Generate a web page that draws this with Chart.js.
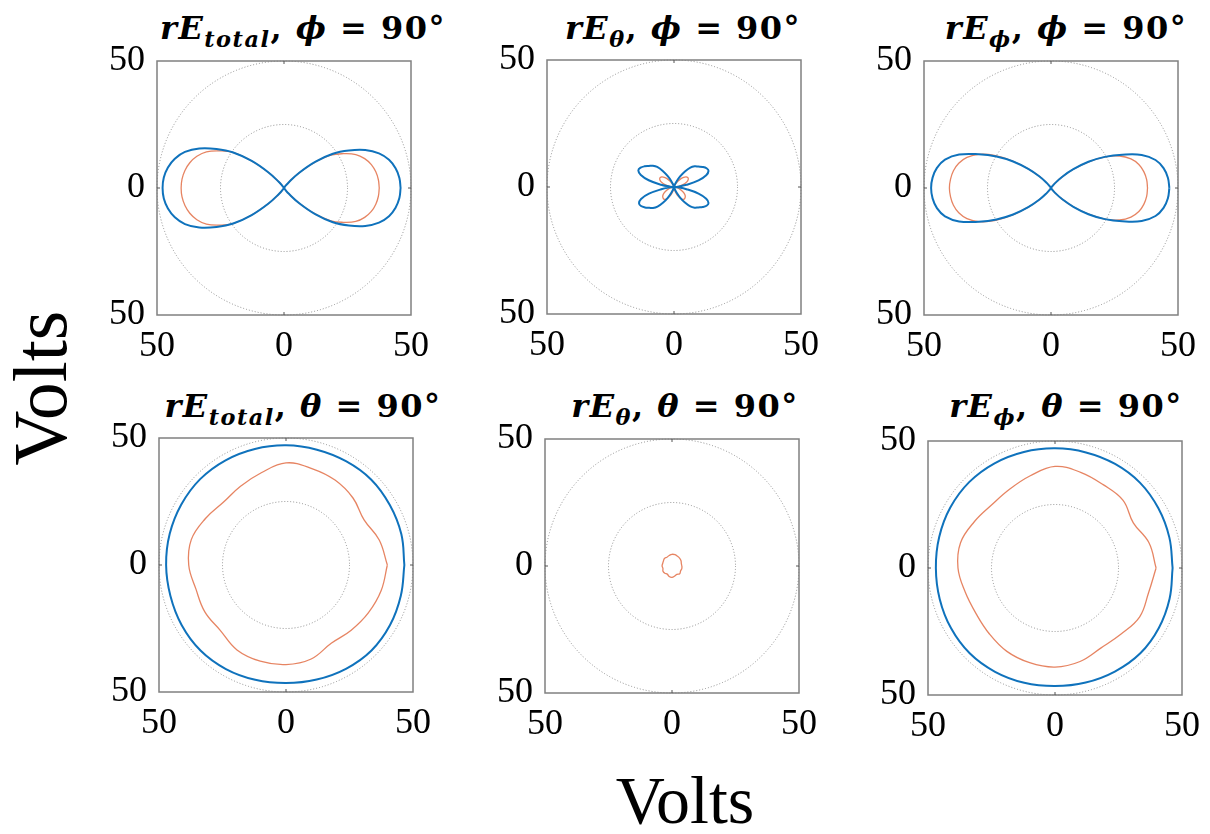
<!DOCTYPE html>
<html>
<head>
<meta charset="utf-8">
<script src="https://cdn.jsdelivr.net/npm/chart.js@4.4.1/dist/chart.umd.min.js"></script>
<style>
  body { margin: 0; background: #fff; }
  #page { position: relative; width: 1210px; height: 834px; overflow: hidden; background: #fff; }
  .panel { position: absolute; }
  .title { position: absolute; width: 420px; text-align: center; white-space: nowrap;
           font: bold 32px "DejaVu Serif", serif; letter-spacing: 1.5px; line-height: 40px; color: #000; }
  .title i { font-style: italic; }
  .title sub { font-size: 0.7em; vertical-align: -0.35em; line-height: 0; }
  .axlab { position: absolute; font-family: "Liberation Serif", serif; color: #000; white-space: nowrap; line-height: 1; }
</style>
</head>
<body>
<div id="page">
  <div class="title" style="left:93px;top:8px"><i>rE</i><sub><i>total</i></sub>, <i>ϕ</i> = 90°</div>
  <div class="title" style="left:473px;top:8px"><i>rE</i><sub><i>θ</i></sub>, <i>ϕ</i> = 90°</div>
  <div class="title" style="left:856px;top:8px"><i>rE</i><sub><i>ϕ</i></sub>, <i>ϕ</i> = 90°</div>
  <div class="title" style="left:93px;top:386px"><i>rE</i><sub><i>total</i></sub>, <i>θ</i> = 90°</div>
  <div class="title" style="left:475px;top:386px"><i>rE</i><sub><i>θ</i></sub>, <i>θ</i> = 90°</div>
  <div class="title" style="left:856px;top:386px"><i>rE</i><sub><i>ϕ</i></sub>, <i>θ</i> = 90°</div>
  <div class="axlab" style="left:40px;top:388px;font-size:76px;transform:translate(-50%,-50%) rotate(-90deg)">Volts</div>
  <div class="axlab" style="left:685px;top:800px;font-size:68px;transform:translate(-50%,-50%)">Volts</div>
  <canvas class="panel" id="c1" width="364" height="350"></canvas>
  <canvas class="panel" id="c2" width="364" height="350"></canvas>
  <canvas class="panel" id="c3" width="364" height="350"></canvas>
  <canvas class="panel" id="c4" width="364" height="350"></canvas>
  <canvas class="panel" id="c5" width="364" height="350"></canvas>
  <canvas class="panel" id="c6" width="364" height="350"></canvas>
</div>
<script>
// angles in degrees (top row every 5°, bottom row every 15°)
const angTop = [
  0, 5, 10, 15, 20, 25, 30, 35, 40, 45, 50, 55,
  60, 65, 70, 75, 80, 85, 90, 95, 100, 105, 110, 115,
  120, 125, 130, 135, 140, 145, 150, 155, 160, 165, 170, 175,
  180, 185, 190, 195, 200, 205, 210, 215, 220, 225, 230, 235,
  240, 245, 250, 255, 260, 265, 270, 275, 280, 285, 290, 295,
  300, 305, 310, 315, 320, 325, 330, 335, 340, 345, 350, 355
];
const angBottom = [0, 15, 30, 45, 60, 75, 90, 105, 120, 135, 150, 165,
  180, 195, 210, 225, 240, 255, 270, 285, 300, 315, 330, 345];

// radius in volts
const p1Blue = [
  45.9, 45.6, 44.6, 42.8, 39.8, 35.3, 29.5, 23.5, 16, 8.5, 3, 0.7,
  0, 0, 0, 0, 0, 0, 0, 0, 0, 0, 0, 0,
  0, 0.7, 3.1, 8.8, 16.6, 24.4, 30.7, 36.8, 41.5, 44.5, 46.4, 47.5,
  47.8, 47.5, 46.4, 44.5, 41.5, 36.8, 30.7, 24.4, 16.6, 8.8, 3.1, 0.7,
  0, 0, 0, 0, 0, 0, 0, 0, 0, 0, 0, 0,
  0, 0.7, 3, 8.5, 16, 23.5, 29.5, 35.3, 39.8, 42.8, 44.6, 45.6
];
const p1Orange = [
  37.5, 37.3, 36.7, 35.6, 33.8, 31.2, 27, 22.5, 15.5, 8.3, 3, 0.7,
  0, 0, 0, 0, 0, 0, 0, 0, 0, 0, 0, 0,
  0, 0.7, 3.1, 8.6, 16.4, 24.2, 29.2, 33.7, 36.5, 38.4, 39.6, 40.3,
  40.5, 40.3, 39.6, 38.4, 36.5, 33.7, 29.2, 24.2, 16.4, 8.6, 3.1, 0.7,
  0, 0, 0, 0, 0, 0, 0, 0, 0, 0, 0, 0,
  0, 0.7, 3, 8.3, 15.5, 22.5, 27, 31.2, 33.8, 35.6, 36.7, 37.3
];
const p2Blue = [
  0, 1.5, 5, 10, 13.5, 15, 14.8, 13.8, 12.5, 11.5, 10, 7.5,
  4.8, 2.5, 0.9, 0.2, 0, 0, 0, 0, 0, 0.2, 0.9, 2.6,
  4.9, 7.7, 10.3, 11.8, 12.9, 14.2, 15.2, 15.5, 13.9, 10.3, 5.2, 1.5,
  0, 1.5, 5.1, 10.2, 13.8, 15.2, 15, 14, 12.7, 11.7, 10.1, 7.6,
  4.9, 2.5, 0.9, 0.2, 0, 0, 0, 0, 0, 0.2, 0.9, 2.5,
  4.8, 7.5, 10, 11.5, 12.5, 13.8, 14.8, 15, 13.5, 10, 5, 1.5
];
const p2Orange = [
  0, 1, 2.4, 3.9, 5.1, 6, 6.5, 6.6, 6.2, 5.4, 4.3, 3,
  1.8, 0.9, 0.3, 0, 0, 0, 0, 0, 0, 0, 0.3, 0.9,
  1.8, 3, 4.3, 5.4, 6.2, 6.6, 6.5, 6, 5.1, 3.9, 2.4, 1,
  0, 0.3, 0.8, 1.5, 2.4, 3.4, 4.4, 5.2, 5.8, 6.1, 6.2, 5.9,
  5.2, 4.1, 2.9, 1.7, 0.7, 0.1, 0, 0.1, 0.7, 1.7, 2.9, 4.1,
  5.2, 5.9, 6.2, 6.1, 5.8, 5.2, 4.4, 3.4, 2.4, 1.5, 0.8, 0.3
];
const p3Blue = [
  46.6, 46.2, 45, 42.6, 38, 31, 24.5, 18, 11.5, 6.3, 2.5, 0.5,
  0, 0, 0, 0, 0, 0, 0, 0, 0, 0, 0, 0,
  0, 0.5, 2.5, 6.4, 11.7, 18.2, 24.8, 31.4, 38.5, 43.2, 45.6, 46.8,
  47.2, 46.8, 45.6, 43.2, 38.5, 31.4, 24.8, 18.2, 11.7, 6.4, 2.5, 0.5,
  0, 0, 0, 0, 0, 0, 0, 0, 0, 0, 0, 0,
  0, 0.5, 2.5, 6.3, 11.5, 18, 24.5, 31, 38, 42.6, 45, 46.2
];
const p3Orange = [
  38, 37.8, 37.1, 35.8, 33.5, 29.8, 24.5, 17.8, 11.3, 6.2, 2.4, 0.5,
  0, 0, 0, 0, 0, 0, 0, 0, 0, 0, 0, 0,
  0, 0.5, 2.5, 6.5, 11.9, 18.7, 25.7, 31.3, 35.2, 37.6, 39, 39.7,
  40, 39.7, 39, 37.6, 35.2, 31.3, 25.7, 18.7, 11.9, 6.5, 2.5, 0.5,
  0, 0, 0, 0, 0, 0, 0, 0, 0, 0, 0, 0,
  0, 0.5, 2.4, 6.2, 11.3, 17.8, 24.5, 29.8, 33.5, 35.8, 37.1, 37.8
];
const p4Blue = [46.6, 47, 47.2, 47.5, 47.2, 47, 47.1, 47.3, 47.6, 47.8, 47.6, 47.4,
  47.2, 47.1, 47.4, 47.6, 47.3, 46.8, 46.5, 46.7, 47.2, 47.6, 47.3, 46.8];
const p4Orange = [39.9, 38, 35.5, 37.3, 38.6, 39.3, 40.2, 37.6, 35.8, 34.9, 36.6, 38.6,
  38.3, 36.7, 36.9, 36.5, 38.6, 39.2, 39.2, 38.3, 35.6, 36.3, 37.5, 38.8];
const p5Blue = [0, 0, 0, 0, 0, 0, 0, 0, 0, 0, 0, 0,
  0, 0, 0, 0, 0, 0, 0, 0, 0, 0, 0, 0];
const p5Orange = [3.9, 3.8, 4.1, 4.3, 4.4, 4.6, 4.6, 4.3, 4, 4.2, 3.9, 3.8,
  3.9, 3.7, 4.1, 4, 3.7, 4.3, 4.5, 4.1, 3.8, 4.3, 3.9, 4];
const p6Blue = [46.3, 46.6, 47, 47.4, 47.3, 47.1, 47.1, 47.3, 47.6, 47.8, 47.6, 47.2,
  46.9, 47, 47.3, 47.5, 47.2, 46.8, 46.5, 46.7, 47.1, 47.5, 47.2, 46.7];
const p6Orange = [39.8, 38.3, 35.6, 37.8, 37.9, 39, 40, 37.6, 35.8, 35.2, 36.6, 38.5,
  38.2, 36.6, 35.9, 36.6, 37.9, 38.6, 39, 38.1, 36.3, 36.8, 38.5, 38.1];

const axisTicks = [-50, 0, 50];
const ringValues = [25, 50];

const BLUE = '#0f72bc';
const ORANGE = 'rgba(226, 110, 70, 0.85)';
const PAD_L = 80, PAD_T = 36;

const panels = [
  { id: 'c1', left: 157, top: 61, ang: angTop, blue: p1Blue, orange: p1Orange },
  { id: 'c2', left: 547, top: 60, ang: angTop, blue: p2Blue, orange: p2Orange },
  { id: 'c3', left: 924, top: 61, ang: angTop, blue: p3Blue, orange: p3Orange },
  { id: 'c4', left: 159, top: 438, ang: angBottom, blue: p4Blue, orange: p4Orange },
  { id: 'c5', left: 545, top: 439, ang: angBottom, blue: p5Blue, orange: p5Orange },
  { id: 'c6', left: 928, top: 441, ang: angBottom, blue: p6Blue, orange: p6Orange },
];

function toXY(ang, r) {
  const pts = ang.map((a, i) => ({
    x: r[i] * Math.cos(a * Math.PI / 180),
    y: r[i] * Math.sin(a * Math.PI / 180),
  }));
  pts.push(pts[0]);
  return pts;
}

// dotted rings, box and the small centre ticks
const polarFrame = {
  id: 'polarFrame',
  beforeDatasetsDraw(chart) {
    const { ctx, chartArea: a, scales: { x, y } } = chart;
    const cx = x.getPixelForValue(0);
    const cy = y.getPixelForValue(0);
    ctx.save();
    ctx.strokeStyle = '#8c8c8c';
    ctx.lineWidth = 1;
    ctx.setLineDash([1, 2]);
    ringValues.forEach(v => {
      const rad = x.getPixelForValue(v) - cx;
      ctx.beginPath();
      ctx.arc(cx, cy, rad, 0, Math.PI * 2);
      ctx.stroke();
    });
    ctx.setLineDash([]);
    ctx.strokeStyle = '#808080';
    ctx.lineWidth = 1.5;
    ctx.strokeRect(a.left, a.top, a.width, a.height);
    ctx.lineWidth = 1;
    ctx.strokeStyle = '#555';
    ctx.beginPath();
    ctx.moveTo(cx, a.top); ctx.lineTo(cx, a.top + 3);
    ctx.moveTo(cx, a.bottom); ctx.lineTo(cx, a.bottom - 3);
    ctx.moveTo(a.left, cy); ctx.lineTo(a.left + 3, cy);
    ctx.moveTo(a.right, cy); ctx.lineTo(a.right - 3, cy);
    ctx.stroke();
    ctx.restore();
  }
};

const tickFont = { family: '"Liberation Serif", serif', size: 36 };

panels.forEach(p => {
  const el = document.getElementById(p.id);
  el.style.left = (p.left - PAD_L) + 'px';
  el.style.top = (p.top - PAD_T) + 'px';
  new Chart(el, {
    type: 'scatter',
    data: {
      datasets: [
        { label: 'blue', data: toXY(p.ang, p.blue), borderColor: BLUE, borderWidth: 2, showLine: true, pointRadius: 0, tension: 0.4, order: 1 },
        { label: 'orange', data: toXY(p.ang, p.orange), borderColor: ORANGE, borderWidth: 1.3, showLine: true, pointRadius: 0, tension: 0.4, order: 2 },
      ],
    },
    options: {
      responsive: false,
      animation: false,
      layout: { padding: { top: PAD_T, right: 30, left: 0, bottom: 0 } },
      plugins: { legend: { display: false }, tooltip: { enabled: false } },
      scales: {
        x: {
          type: 'linear', min: -50, max: 50,
          grid: { display: false, drawTicks: false },
          border: { display: false },
          afterBuildTicks: s => { s.ticks = axisTicks.map(v => ({ value: v })); },
          ticks: { padding: 10, font: tickFont, color: '#000', maxRotation: 0, callback: v => Math.abs(v) },
          afterFit: s => { s.height = 60; },
        },
        y: {
          type: 'linear', min: -50, max: 50,
          grid: { display: false, drawTicks: false },
          border: { display: false },
          afterBuildTicks: s => { s.ticks = axisTicks.map(v => ({ value: v })); },
          ticks: { padding: 12, font: tickFont, color: '#000', callback: v => Math.abs(v) },
          afterFit: s => { s.width = PAD_L; },
        },
      },
    },
    plugins: [polarFrame],
  });
});
</script>
</body>
</html>
